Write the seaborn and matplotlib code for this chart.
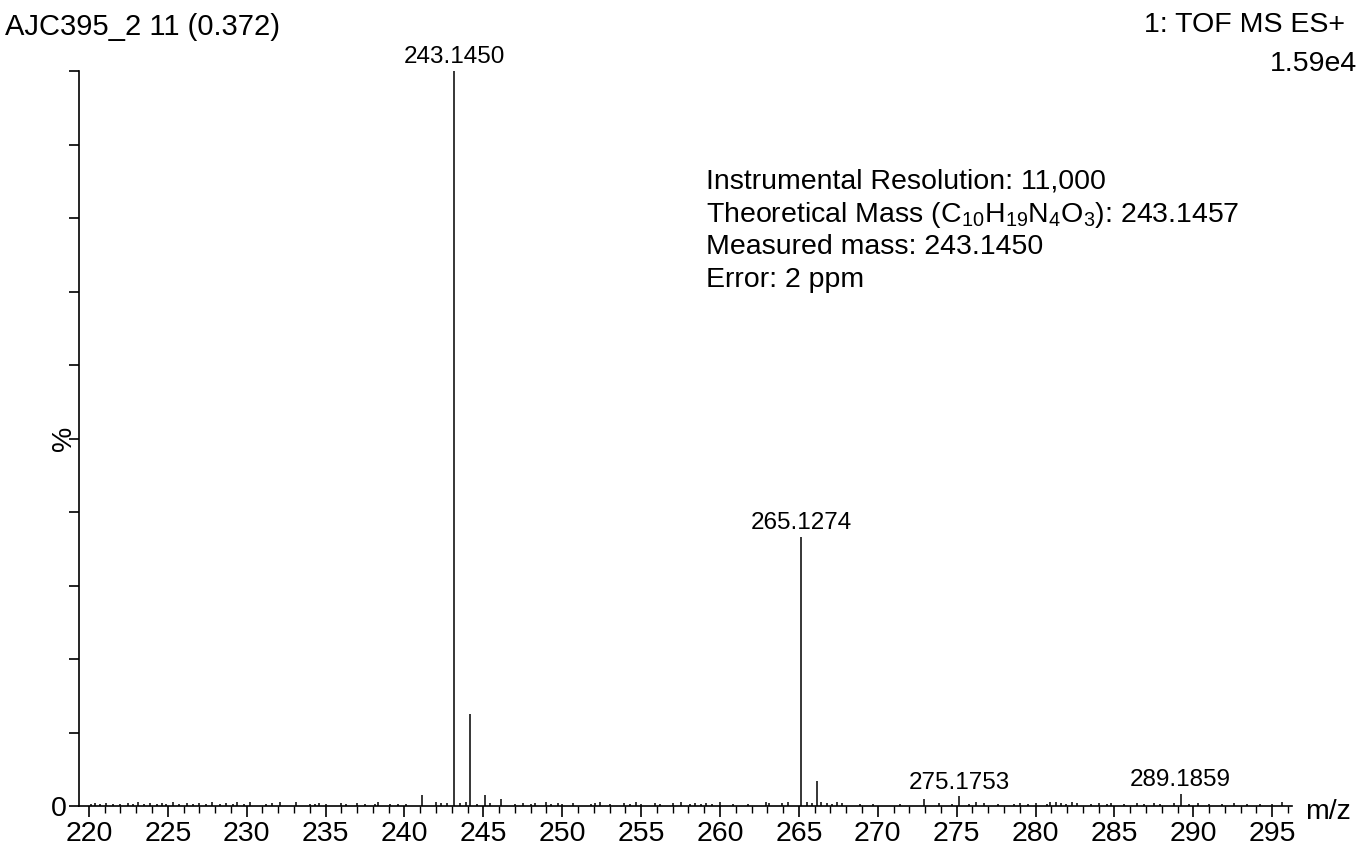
import matplotlib
matplotlib.use("Agg")
import matplotlib.pyplot as plt
import seaborn as sns
import pandas as pd
from matplotlib.ticker import MultipleLocator, FixedLocator

# ---- data ----
peak_mz = [243.1450, 244.1480, 265.1274, 266.1300, 241.1200, 245.1300,
           246.1000, 262.9000, 272.9000, 275.1753, 289.1859, 263.9000]
peak_int = [100.0, 12.5, 36.6, 3.4, 1.5, 1.5, 0.9, 0.6, 1.0, 1.3, 1.6, 0.4]
labelled_mz = [243.1450, 265.1274, 275.1753, 289.1859]
labelled_text = ["243.1450", "265.1274", "275.1753", "289.1859"]

noise_mz = [220.1, 220.4, 220.7, 221.1, 221.5, 222.0, 222.5, 222.8, 223.1, 223.5,
            223.9, 224.3, 224.6, 224.9, 225.3, 225.7, 226.2, 226.6, 227.0, 227.4,
            227.8, 228.3, 228.7, 229.1, 229.4, 229.8, 230.2, 231.2, 231.6, 232.1,
            233.1, 234.0, 234.3, 234.6, 235.0, 236.0, 236.3, 237.0, 237.5, 238.1,
            238.3, 239.1, 239.6, 240.1, 242.0, 242.3, 242.7, 243.5, 243.9, 244.6,
            245.4, 247.0, 247.5, 248.0, 248.3, 249.0, 249.3, 249.7, 250.0, 250.7,
            251.8, 252.1, 252.4, 253.0, 253.9, 254.3, 254.7, 255.0, 255.9, 256.2,
            257.0, 257.5, 258.1, 258.4, 258.8, 259.1, 259.5, 260.0, 260.8, 261.8,
            263.1, 264.3, 265.5, 265.8, 266.4, 266.8, 267.1, 267.4, 267.7, 268.9,
            269.7, 271.4, 273.9, 274.7, 275.8, 276.2, 276.7, 277.6, 278.6, 279.0,
            279.5, 280.0, 280.7, 280.9, 281.3, 281.6, 281.9, 282.3, 282.6, 283.5,
            284.0, 284.5, 284.8, 285.6, 286.4, 286.9, 287.5, 287.9, 288.8, 289.7,
            290.3, 291.0, 291.8, 292.6, 293.4, 294.2, 295.0, 295.6]
noise_int = [0.3, 0.4, 0.3, 0.4, 0.3, 0.3, 0.4, 0.3, 0.5, 0.3,
             0.4, 0.3, 0.4, 0.3, 0.5, 0.3, 0.4, 0.3, 0.4, 0.3,
             0.5, 0.3, 0.4, 0.3, 0.5, 0.3, 0.6, 0.3, 0.4, 0.5,
             0.6, 0.3, 0.3, 0.4, 0.3, 0.4, 0.3, 0.4, 0.3, 0.3,
             0.5, 0.3, 0.3, 0.3, 0.5, 0.4, 0.4, 0.4, 0.5, 0.3,
             0.4, 0.3, 0.4, 0.3, 0.4, 0.5, 0.3, 0.4, 0.3, 0.4,
             0.3, 0.4, 0.5, 0.3, 0.4, 0.3, 0.5, 0.3, 0.4, 0.3,
             0.4, 0.5, 0.3, 0.4, 0.3, 0.4, 0.3, 0.5, 0.3, 0.3,
             0.4, 0.5, 0.6, 0.4, 0.5, 0.4, 0.3, 0.5, 0.4, 0.3,
             0.3, 0.3, 0.4, 0.3, 0.3, 0.5, 0.4, 0.3, 0.3, 0.4,
             0.3, 0.4, 0.3, 0.5, 0.6, 0.4, 0.3, 0.5, 0.4, 0.3,
             0.4, 0.3, 0.4, 0.3, 0.4, 0.3, 0.4, 0.3, 0.4, 0.3,
             0.4, 0.3, 0.3, 0.4, 0.3, 0.3, 0.3, 0.5]

x_major_ticks = list(range(220, 296, 5))
y_ticks = list(range(0, 101, 10))
y_tick_labels = ["0"] + [""] * 10

title_left = "AJC395_2 11 (0.372)"
title_right = "1: TOF MS ES+"
scale_text = "1.59e4"
info_lines = ["Instrumental Resolution: 11,000",
              r"Theoretical Mass ($\mathregular{C_{10}H_{19}N_4O_3}$): 243.1457",
              "Measured mass: 243.1450",
              "Error: 2 ppm"]

# ---- style ----
sns.set_style("ticks")
plt.rcParams["font.family"] = ["Liberation Sans", "DejaVu Sans"]
plt.rcParams["mathtext.fontset"] = "custom"
plt.rcParams["mathtext.rm"] = "Liberation Sans"
plt.rcParams["mathtext.it"] = "Liberation Sans"
plt.rcParams["text.color"] = "black"
plt.rcParams["axes.labelcolor"] = "black"

W, H = 1362, 852
fig = plt.figure(figsize=(W / 100, H / 100), dpi=100)
fig.patch.set_facecolor("white")
ax = fig.add_axes([79 / W, 1 - 806 / H, (1292 - 79) / W, (806 - 71) / H])
ax.set_facecolor("white")

spec = pd.DataFrame({"mz": peak_mz + noise_mz, "intensity": peak_int + noise_int})
ax.vlines(spec["mz"], 0, spec["intensity"], color="black", linewidth=1.1)

ax.set_xlim(219.37, 296.25)
ax.set_ylim(0, 100)
sns.despine(ax=ax)
for s in ["left", "bottom"]:
    ax.spines[s].set_linewidth(1.2)
    ax.spines[s].set_color("black")

ax.xaxis.set_major_locator(FixedLocator(x_major_ticks))
ax.xaxis.set_minor_locator(MultipleLocator(1))
ax.set_yticks(y_ticks)
ax.set_yticklabels(y_tick_labels)
ax.tick_params(axis="x", which="major", direction="out", length=8, width=1.2,
               labelsize=20.5, pad=3, colors="black")
ax.tick_params(axis="x", which="minor", direction="out", length=5, width=1.0,
               colors="black")
ax.tick_params(axis="y", which="major", direction="out", length=7.5, width=1.2,
               labelsize=20.5, pad=1.5, colors="black")
ax.set_xlabel("")
ax.set_ylabel("%", fontsize=20.5, rotation=90, color="black")
ax.yaxis.set_label_coords(-0.002, 0.5)

for mz, txt in zip(labelled_mz, labelled_text):
    h = spec.loc[(spec["mz"] - mz).abs().idxmin(), "intensity"]
    ax.annotate(txt, xy=(mz, h), xytext=(0, 2), textcoords="offset points",
                ha="center", va="bottom", fontsize=17.5, color="black")

fig.text(5 / W, 1 - 27 / H, title_left, ha="left", va="center", fontsize=21)
fig.text(1345 / W, 1 - 25 / H, title_right, ha="right", va="center", fontsize=20.5)
fig.text(1357 / W, 1 - 64 / H, scale_text, ha="right", va="center", fontsize=20.5)
fig.text(1305 / W, 1 - 812 / H, "m/z", ha="left", va="center", fontsize=20.5)

for i, line in enumerate(info_lines):
    fig.text(706 / W, 1 - (182 + 32.7 * i) / H, line, ha="left", va="center",
             fontsize=20.5)

fig.savefig("out.png", dpi=100)
